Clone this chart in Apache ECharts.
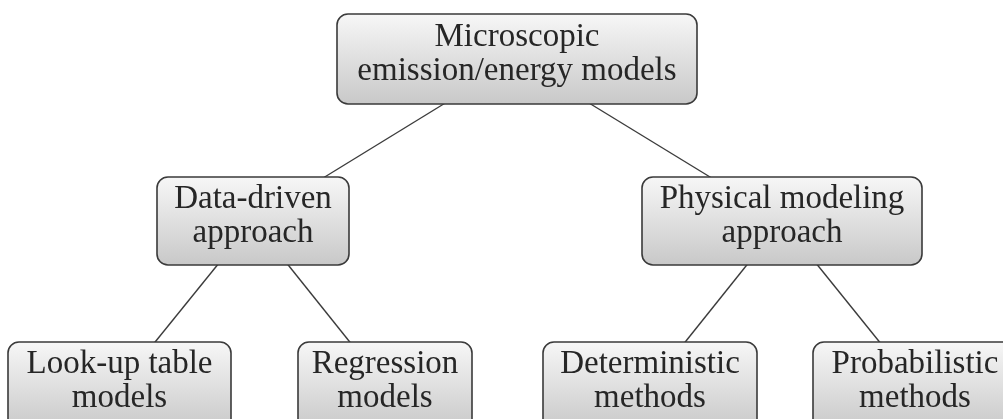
<!DOCTYPE html>
<html>
<head>
<meta charset="utf-8">
<script src="https://cdn.jsdelivr.net/npm/echarts@6/dist/echarts.min.js"></script>
<style>
  html, body { margin: 0; padding: 0; background: #fff; }
  #chart { width: 1003px; height: 419px; }
</style>
</head>
<body>
<div id="chart"></div>
<script>
// tree content
var nodeLabels = [
  'Microscopic\nemission/energy models',
  'Data-driven\napproach',
  'Physical modeling\napproach',
  'Look-up table\nmodels',
  'Regression\nmodels',
  'Deterministic\nmethods',
  'Probabilistic\nmethods'
];
var nodeParent = [-1, 0, 0, 1, 1, 2, 2];

// layout (axis units = pixels)
var nodeX = [517, 253, 782, 119.5, 385, 650, 915];
var nodeLevel = [0, 1, 1, 2, 2, 2, 2];
var levelY = [59, 221, 386];
var nodeW = [360, 192, 280, 223, 174, 214, 204];
var nodeH = [90, 88, 88, 88, 88, 88, 88];

var nodeData = nodeLabels.map(function (t, i) {
  return [nodeX[i], levelY[nodeLevel[i]], i];
});
var edgeData = [];
nodeParent.forEach(function (p, i) {
  if (p < 0) return;
  edgeData.push([nodeX[p], levelY[nodeLevel[p]], nodeX[i], levelY[nodeLevel[i]]]);
});

var boxFill = new echarts.graphic.LinearGradient(0, 0, 0, 1, [
  { offset: 0, color: '#f7f7f7' },
  { offset: 1, color: '#c8c8c8' }
]);

var option = {
  animation: false,
  backgroundColor: '#ffffff',
  grid: { left: 0, right: 0, top: 0, bottom: 0 },
  xAxis: { type: 'value', min: 0, max: 1003, show: false },
  yAxis: { type: 'value', min: 0, max: 419, inverse: true, show: false },
  series: [
    {
      type: 'custom',
      z: 1,
      data: edgeData,
      renderItem: function (params, api) {
        var a = api.coord([api.value(0), api.value(1)]);
        var b = api.coord([api.value(2), api.value(3)]);
        return {
          type: 'line',
          shape: { x1: a[0], y1: a[1], x2: b[0], y2: b[1] },
          style: { stroke: '#3c3c3c', lineWidth: 1.4 }
        };
      }
    },
    {
      type: 'custom',
      z: 2,
      data: nodeData,
      renderItem: function (params, api) {
        var i = api.value(2);
        var c = api.coord([api.value(0), api.value(1)]);
        var w = nodeW[i], h = nodeH[i];
        return {
          type: 'rect',
          shape: { x: c[0] - w / 2, y: c[1] - h / 2, width: w, height: h, r: 11 },
          style: { fill: boxFill, stroke: '#3a3a3a', lineWidth: 1.6 },
          textContent: {
            style: {
              text: nodeLabels[i],
              font: '33px "Liberation Serif", serif',
              fill: '#262626',
              align: 'center',
              verticalAlign: 'middle',
              lineHeight: 34
            }
          },
          textConfig: { position: 'inside', offset: [0, -5] }
        };
      }
    }
  ]
};

var myChart = echarts.init(document.getElementById('chart'));
myChart.setOption(option);
</script>
</body>
</html>
